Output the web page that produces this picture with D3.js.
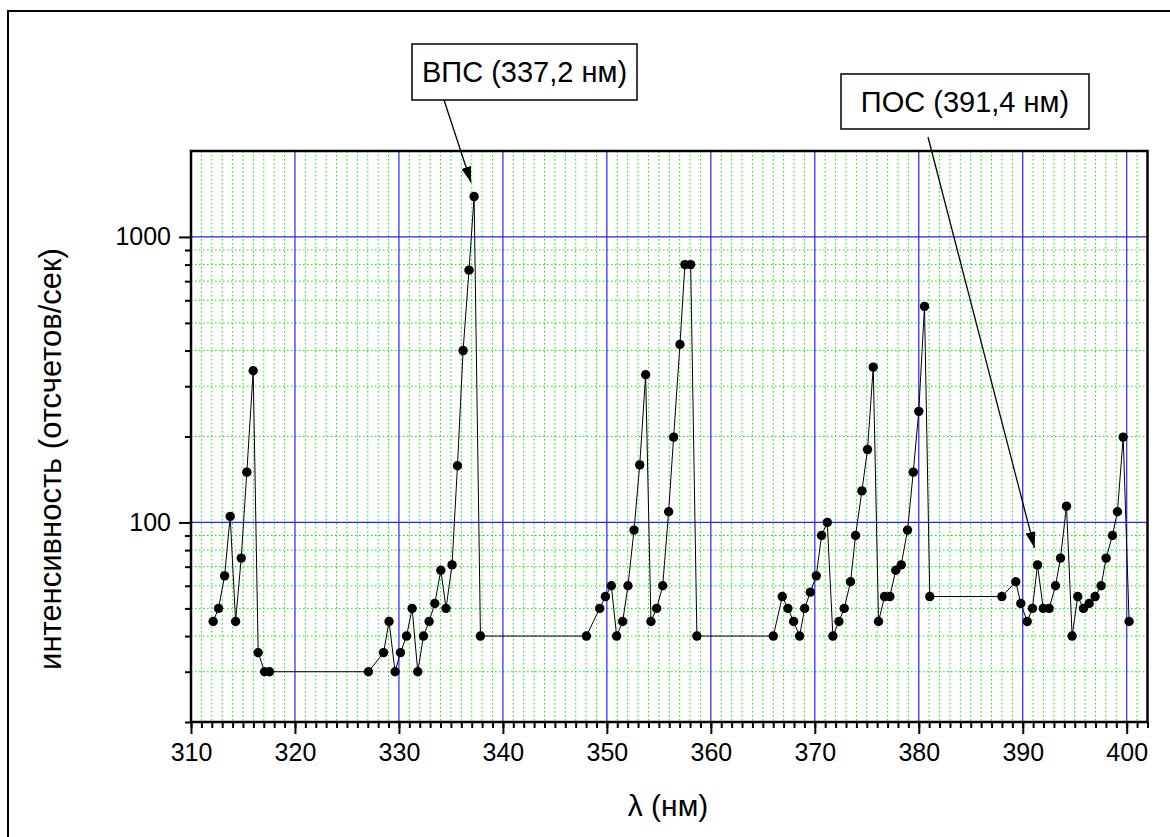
<!DOCTYPE html>
<html>
<head>
<meta charset="utf-8">
<script src="https://cdn.jsdelivr.net/npm/d3@7/dist/d3.min.js"></script>
<style>
  html, body { margin: 0; padding: 0; background: #fff; }
  svg { display: block; font-family: Arial, "Liberation Sans", sans-serif; }
</style>
</head>
<body>
<svg id="chart" width="1170" height="837"></svg>
<script>
// ---- data ----
const wavelengths = [
  312.13, 312.65, 313.23, 313.77, 314.29, 314.83, 315.37, 315.98, 316.46, 317.08, 317.56,
  327.07, 328.52, 329.05, 329.63, 330.15, 330.73, 331.27, 331.81, 332.36, 332.90,
  333.45, 334.03, 334.53, 335.11, 335.63, 336.17, 336.74, 337.23, 337.84,
  348.03, 349.31, 349.86, 350.43, 350.94, 351.52, 352.03, 352.61, 353.16, 353.73,
  354.24, 354.79, 355.37, 355.94, 356.42, 357.03, 357.51, 358.06, 358.66,
  366.01, 366.87, 367.41, 367.96, 368.54, 369.02, 369.57, 370.14, 370.65, 371.20,
  371.74, 372.32, 372.83, 373.44, 373.92, 374.53, 375.07, 375.62, 376.13, 376.71,
  377.22, 377.79, 378.31, 378.92, 379.47, 380.00, 380.55, 381.06,
  387.99, 389.33, 389.81, 390.43, 390.93, 391.42, 391.97, 392.54, 393.15, 393.63,
  394.21, 394.75, 395.29, 395.84, 396.39, 396.96, 397.54, 398.02, 398.63, 399.11,
  399.66, 400.23
];
const intensity = [
  45, 50, 65, 105, 45, 75, 150, 340, 35, 30, 30,
  30, 35, 45, 30, 35, 40, 50, 30, 40, 45,
  52, 68, 50, 71, 158, 400, 765, 1385, 40,
  40, 50, 55, 60, 40, 45, 60, 94, 159, 329,
  45, 50, 60, 109, 199, 420, 800, 800, 40,
  40, 55, 50, 45, 40, 50, 57, 65, 90, 100,
  40, 45, 50, 62, 90, 129, 180, 350, 45, 55,
  55, 68, 71, 94, 150, 245, 571, 55,
  55, 62, 52, 45, 50, 71, 50, 50, 60, 75,
  114, 40, 55, 50, 52, 55, 60, 75, 90, 109,
  199, 45
];
const xTickValues = [310, 320, 330, 340, 350, 360, 370, 380, 390, 400];
const yTickValues = [100, 1000];
const xLabel = "λ (нм)";
const yLabel = "интенсивность (отсчетов/сек)";
const annotationTexts = ["ВПС (337,2 нм)", "ПОС (391,4 нм)"];
const annotationTargets = [[337.23, 1385], [391.42, 71]];

// ---- layout ----
const svg = d3.select("#chart");
const L = 191, R = 1147.5, T = 151, B = 722;
const x = d3.scaleLinear().domain([310, 402]).range([L, R]);
const y = d3.scaleLog().domain([20, 2000]).range([B, T]);

// outer frame
svg.append("rect").attr("x", 8).attr("y", 11).attr("width", 1200).attr("height", 900)
  .attr("fill", "none").attr("stroke", "#000").attr("stroke-width", 2);

const data = wavelengths.map((w, i) => ({ w, v: intensity[i] }));

// minor grid
const minorX = d3.range(311, 402, 1).filter(v => v % 10 !== 0);
const minorY = [];
[10, 100, 1000].forEach(d => { for (let k = 2; k <= 9; k++) { const v = d * k; if (v > 20 && v < 2000) minorY.push(v); } });
const grid = svg.append("g");
grid.selectAll(".mx").data(minorX).join("line")
  .attr("x1", d => x(d)).attr("x2", d => x(d)).attr("y1", T).attr("y2", B)
  .attr("stroke", "#00ee00").attr("stroke-width", 1).attr("stroke-dasharray", "1.5,2.5");
grid.selectAll(".my").data(minorY).join("line")
  .attr("x1", L).attr("x2", R).attr("y1", d => y(d)).attr("y2", d => y(d))
  .attr("stroke", "#00ee00").attr("stroke-width", 1).attr("stroke-dasharray", "1.5,2.5");
// major grid
grid.selectAll(".Mx").data(xTickValues.filter(v => v > 310)).join("line")
  .attr("x1", d => x(d)).attr("x2", d => x(d)).attr("y1", T).attr("y2", B)
  .attr("stroke", "#2222ff").attr("stroke-width", 1.2);
grid.selectAll(".My").data(yTickValues).join("line")
  .attr("x1", L).attr("x2", R).attr("y1", d => y(d)).attr("y2", d => y(d))
  .attr("stroke", "#2222ff").attr("stroke-width", 1.2);

// axes
const xAxisMinor = d3.axisBottom(x).tickValues(d3.range(310, 403, 1)).tickSize(6).tickFormat("");
const xAxisMajor = d3.axisBottom(x).tickValues(xTickValues).tickSize(12).tickPadding(9).tickFormat(d3.format("d"));
const yAxisMinor = d3.axisLeft(y).tickValues(minorY.concat([20])).tickSize(6).tickFormat("");
const yAxisMajor = d3.axisLeft(y).tickValues(yTickValues).tickSize(12).tickPadding(8).tickFormat(d3.format("d"));

function styleAxis(g) {
  g.select(".domain").remove();
  g.selectAll(".tick line").attr("stroke", "#000").attr("stroke-width", 2);
  g.selectAll(".tick text").attr("fill", "#000").style("font-size", "25px")
    .style("font-family", "Arial, 'Liberation Sans', sans-serif");
}
svg.append("g").attr("transform", `translate(0,${B})`).call(xAxisMinor).call(styleAxis);
svg.append("g").attr("transform", `translate(0,${B})`).call(xAxisMajor).call(styleAxis);
svg.append("g").attr("transform", `translate(${L},0)`).call(yAxisMinor).call(styleAxis);
svg.append("g").attr("transform", `translate(${L},0)`).call(yAxisMajor).call(styleAxis);

// plot frame
svg.append("rect").attr("x", L).attr("y", T).attr("width", R - L).attr("height", B - T)
  .attr("fill", "none").attr("stroke", "#000").attr("stroke-width", 2.5);

// data line + markers
svg.append("path").datum(data)
  .attr("d", d3.line().x(d => x(d.w)).y(d => y(d.v)))
  .attr("fill", "none").attr("stroke", "#000").attr("stroke-width", 1);
svg.append("g").selectAll("circle").data(data).join("circle")
  .attr("cx", d => x(d.w)).attr("cy", d => y(d.v)).attr("r", 4.7).attr("fill", "#000");

// axis labels
svg.append("text").attr("x", 668).attr("y", 816).attr("text-anchor", "middle")
  .style("font-size", "30px").text(xLabel);
svg.append("text").attr("transform", `translate(61,459) rotate(-90)`)
  .attr("text-anchor", "middle").style("font-size", "31px").text(yLabel);

// annotations
const defs = svg.append("defs");
defs.append("marker").attr("id", "arrow").attr("viewBox", "0 0 16 10")
  .attr("refX", 16).attr("refY", 5).attr("markerWidth", 16).attr("markerHeight", 10)
  .attr("markerUnits", "userSpaceOnUse").attr("orient", "auto")
  .append("path").attr("d", "M0,0 L16,5 L0,10 Z").attr("fill", "#000");

const boxes = [
  { x: 412, y: 44, w: 225, h: 56, sx: 444, sy: 100, dx: -3, dy: -14 },
  { x: 841, y: 74, w: 248, h: 55, sx: 928, sy: 137, dx: -3, dy: -17 }
];
boxes.forEach((b, i) => {
  svg.append("rect").attr("x", b.x).attr("y", b.y).attr("width", b.w).attr("height", b.h)
    .attr("fill", "#fff").attr("stroke", "#000").attr("stroke-width", 1.5);
  svg.append("text").attr("x", b.x + b.w / 2).attr("y", b.y + b.h / 2 + 10)
    .attr("text-anchor", "middle").style("font-size", "29px").text(annotationTexts[i]);
  const t = annotationTargets[i];
  svg.append("line").attr("x1", b.sx).attr("y1", b.sy)
    .attr("x2", x(t[0]) + b.dx).attr("y2", y(t[1]) + b.dy)
    .attr("stroke", "#000").attr("stroke-width", 1.3).attr("marker-end", "url(#arrow)");
});
</script>
</body>
</html>
